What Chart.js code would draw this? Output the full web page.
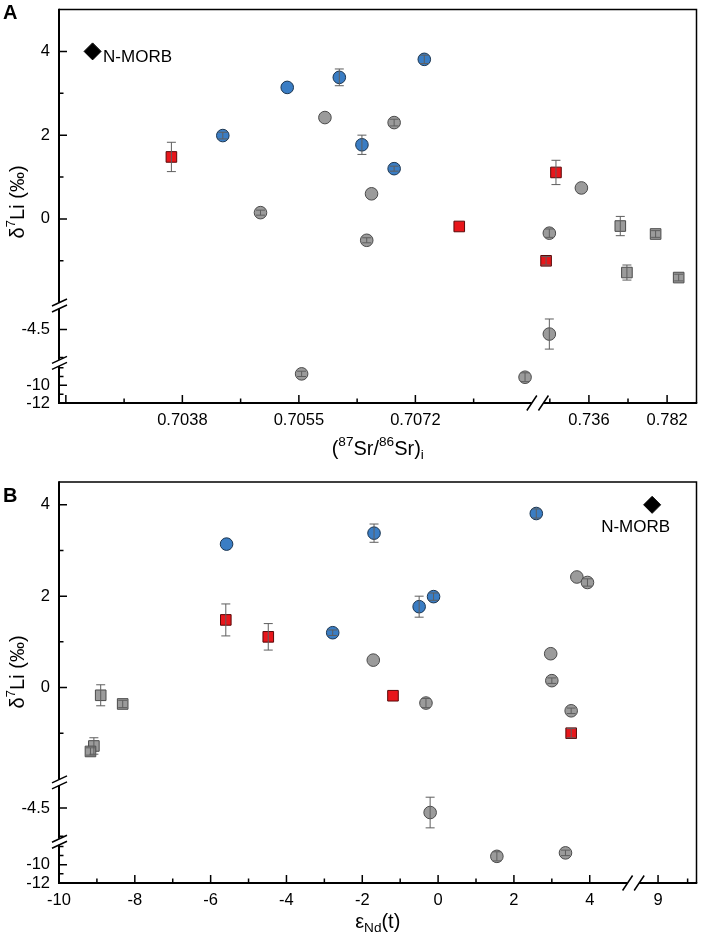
<!DOCTYPE html>
<html>
<head>
<meta charset="utf-8">
<script src="https://cdn.jsdelivr.net/npm/chart.js@4.4.1/dist/chart.umd.min.js"></script>
<style>
  html, body { margin: 0; padding: 0; background: #fff; }
  #wrap { position: relative; width: 706px; height: 945px; }
  canvas { position: absolute; left: 0; }
  #chartA { top: 0; }
  #chartB { top: 470px; }
</style>
</head>
<body>
<div id="wrap">
  <canvas id="chartA" width="706" height="470" style="width:706px;height:470px"></canvas>
  <canvas id="chartB" width="706" height="475" style="width:706px;height:475px"></canvas>
</div>
<script>
/**
 * δ7Li vs (87Sr/86Sr)i and εNd(t) - two panels with broken axes
 */

// ---- data ----
const SERIES = ["Group 1", "Group 2", "Group 3", "Group 4"];

// group 1 (blue circles)
const g1Li = [1.99, 3.14, 3.38, 3.81, 1.77, 1.2];
const g1Err = [0.08, 0, 0.2, 0.1, 0.23, 0.06];
const g1Sr = [0.70439, 0.70533, 0.70609, 0.70733, 0.70642, 0.70689];
const g1Nd = [-0.12, -5.58, -1.69, 2.59, -0.5, -2.78];

// group 2 (red squares)
const g2Li = [1.48, 1.11, -0.18, -1.0];
const g2Err = [0.35, 0.29, 0, 0.1];
const g2Sr = [0.70364, 0.71661, 0.70784, 0.71079];
const g2Nd = [-5.6, -4.48, -1.19, 3.51];

// group 3 (grey circles)
const g3Li = [0.15, 2.42, 2.3, 0.6, -0.51, 0.74, -0.34, -4.58, -9.08, -8.7];
const g3Err = [0.06, 0, 0.08, 0, 0.06, 0, 0.1, 0.27, 0.5, 0.3];
const g3Sr = [0.70494, 0.70588, 0.70689, 0.70656, 0.70649, 0.73157, 0.71271, 0.71271, 0.7088, 0.70554];
const g3Nd = [3.0, 3.66, 3.94, -1.71, 3.51, 2.97, -0.32, -0.21, 1.55, 3.36];

// group 4 (grey squares)
const g4Li = [-0.17, -0.36, -1.28, -1.4];
const g4Err = [0.23, 0.08, 0.18, 0.08];
const g4Sr = [0.75446, 0.77524, 0.75836, 0.78881];
const g4Nd = [-8.9, -8.32, -9.08, -9.17];

// N-MORB reference
const morbLi = 4;
const morbSr = 0.70249;
const morbNd = 8.9;

// tick values / labels
const yMajor = [4, 2, 0, -4.5, -10, -12];
const yLabels = ["4", "2", "0", "-4.5", "-10", "-12"];
const yMinor = [3, 1, -1, -5, -8, -9, -11];

const aXMajor = [0.7021, 0.7038, 0.7055, 0.7072, 0.736, 0.782];
const aXLabels = ["", "0.7038", "0.7055", "0.7072", "0.736", "0.782"];
const aXMinor = [0.70295, 0.70465, 0.70635, 0.70805, 0.713, 0.759];

const bXMajor = [-10, -8, -6, -4, -2, 0, 2, 4, 9];
const bXLabels = ["-10", "-8", "-6", "-4", "-2", "0", "2", "4", "9"];
const bXMinor = [-9, -7, -5, -3, -1, 1, 3, 9.5];

// ---- broken axis segments: value range -> fraction of plot length ----
const aXSegs = [
  { from: 0.702, to: 0.7089, f0: 0, f1: 0.7418 },
  { from: 0.7092, to: 0.7993, f0: 0.7598, f1: 1 },
];
const aYSegs = [
  { from: -12, to: -7.7, f0: 0, f1: 0.0965 },
  { from: -5.06, to: -4.12, f0: 0.1072, f1: 0.2404 },
  { from: -2, to: 5, f0: 0.2549, f1: 1 },
];
const bXSegs = [
  { from: -10, to: 5, f0: 0, f1: 0.892 },
  { from: 8.68, to: 9.65, f0: 0.91, f1: 1 },
];
const bYSegs = [
  { from: -12, to: -7.7, f0: 0, f1: 0.0979 },
  { from: -5.06, to: -4.11, f0: 0.1078, f1: 0.2423 },
  { from: -2, to: 4.5, f0: 0.2597, f1: 1 },
];

const TICK_FONT = '16.5px "Liberation Sans", Arial, sans-serif';
const TITLE_SIZE = 20;
const FONT_FAMILY = '"Liberation Sans", Arial, sans-serif';

const STYLES = [
  { pointStyle: "circle", radius: 6.3, fill: "#3a7dc4", line: "#1b3550" },
  { pointStyle: "rect", radius: 7.5, fill: "#e8161b", line: "#5a0a0a" },
  { pointStyle: "circle", radius: 6.3, fill: "#9b9b9b", line: "#4a4a4a" },
  { pointStyle: "rect", radius: 7.5, fill: "#9b9b9b", line: "#4a4a4a" },
];

function makeMap(segs) {
  return function (v) {
    for (const s of segs) {
      if (v >= s.from && v <= s.to) {
        return s.f0 + ((v - s.from) / (s.to - s.from)) * (s.f1 - s.f0);
      }
    }
    return NaN;
  };
}

// draw a line of text with sup/sub parts, centred at (x, y)
function drawRich(ctx, parts, x, y, size) {
  const small = size * 0.68;
  let total = 0;
  const widths = parts.map(function (p) {
    ctx.font = (p.s ? small : size) + "px " + FONT_FAMILY;
    const w = ctx.measureText(p.t).width;
    total += w;
    return w;
  });
  let cx = x - total / 2;
  ctx.textAlign = "left";
  ctx.textBaseline = "middle";
  parts.forEach(function (p, i) {
    ctx.font = (p.s ? small : size) + "px " + FONT_FAMILY;
    let dy = 0;
    if (p.s === "sup") dy = -size * 0.36;
    if (p.s === "sub") dy = size * 0.3;
    ctx.fillText(p.t, cx, y + dy);
    cx += widths[i];
  });
}

function buildDatasets(xs, mapX, mapY, morbX) {
  const groups = [
    { li: g1Li, err: g1Err, x: xs[0] },
    { li: g2Li, err: g2Err, x: xs[1] },
    { li: g3Li, err: g3Err, x: xs[2] },
    { li: g4Li, err: g4Err, x: xs[3] },
  ];
  const sets = groups.map(function (g, k) {
    const st = STYLES[k];
    return {
      label: SERIES[k],
      data: g.li.map(function (v, i) {
        return { x: mapX(g.x[i]), y: mapY(v), li: v, err: g.err[i] };
      }),
      pointStyle: st.pointStyle,
      pointRadius: st.radius,
      pointBackgroundColor: st.fill,
      pointBorderColor: st.line,
      pointBorderWidth: 1,
      showLine: false,
    };
  });
  sets.push({
    label: "N-MORB",
    data: [{ x: mapX(morbX), y: mapY(morbLi), li: morbLi, err: 0 }],
    pointStyle: "rectRot",
    pointRadius: 8.5,
    pointBackgroundColor: "#000",
    pointBorderColor: "#000",
    pointBorderWidth: 1,
    showLine: false,
  });
  return sets;
}

// axes, ticks, breaks, titles and error bars drawn on top of the library scales
function brokenAxesPlugin(p) {
  return {
    id: "brokenAxes",
    afterDatasetsDraw: function (chart) {
      const ctx = chart.ctx;
      const xs = chart.scales.x;
      const ys = chart.scales.y;
      ctx.save();
      ctx.strokeStyle = "#5e5e5e";
      ctx.lineWidth = 1;
      chart.data.datasets.forEach(function (ds) {
        ds.data.forEach(function (pt) {
          if (!pt.err) return;
          const x = xs.getPixelForValue(pt.x);
          const y1 = ys.getPixelForValue(p.mapY(pt.li + pt.err));
          const y2 = ys.getPixelForValue(p.mapY(pt.li - pt.err));
          ctx.beginPath();
          ctx.moveTo(x, y1);
          ctx.lineTo(x, y2);
          ctx.moveTo(x - 4.5, y1);
          ctx.lineTo(x + 4.5, y1);
          ctx.moveTo(x - 4.5, y2);
          ctx.lineTo(x + 4.5, y2);
          ctx.stroke();
        });
      });
      ctx.restore();
    },
    afterDraw: function (chart) {
      const ctx = chart.ctx;
      const a = chart.chartArea;
      const xs = chart.scales.x;
      const ys = chart.scales.y;
      const X = function (v) { return xs.getPixelForValue(p.mapX(v)); };
      const Y = function (v) { return ys.getPixelForValue(p.mapY(v)); };

      ctx.save();
      ctx.strokeStyle = "#000";
      ctx.fillStyle = "#000";

      // frame
      ctx.lineWidth = 1.5;
      ctx.beginPath();
      ctx.moveTo(a.left, a.top);
      ctx.lineTo(a.right, a.top);
      ctx.lineTo(a.right, a.bottom);
      ctx.stroke();
      ctx.lineWidth = 2;
      ctx.beginPath();
      ctx.moveTo(a.left, a.top - 0.75);
      ctx.lineTo(a.left, a.bottom);
      ctx.lineTo(a.right + 0.75, a.bottom);
      ctx.stroke();

      // ticks (inward)
      ctx.lineWidth = 1.5;
      ctx.beginPath();
      p.xMajor.forEach(function (v) {
        const x = X(v);
        ctx.moveTo(x, a.bottom);
        ctx.lineTo(x, a.bottom - 8);
      });
      p.xMinor.forEach(function (v) {
        const x = X(v);
        ctx.moveTo(x, a.bottom);
        ctx.lineTo(x, a.bottom - 4.5);
      });
      yMajor.forEach(function (v) {
        const y = Y(v);
        ctx.moveTo(a.left, y);
        ctx.lineTo(a.left + 8, y);
      });
      yMinor.forEach(function (v) {
        const y = Y(v);
        ctx.moveTo(a.left, y);
        ctx.lineTo(a.left + 4.5, y);
      });
      ctx.stroke();

      // tick labels
      ctx.font = TICK_FONT;
      ctx.textAlign = "center";
      ctx.textBaseline = "middle";
      p.xMajor.forEach(function (v, i) {
        ctx.fillText(p.xLabels[i], X(v), a.bottom + 17);
      });
      ctx.textAlign = "right";
      yMajor.forEach(function (v, i) {
        ctx.fillText(yLabels[i], a.left - 9, Y(v));
      });

      // axis breaks
      ctx.lineWidth = 1.5;
      for (let i = 0; i < p.xSegs.length - 1; i++) {
        const cx = xs.getPixelForValue((p.xSegs[i].f1 + p.xSegs[i + 1].f0) / 2);
        const d = 5.8;
        ctx.fillStyle = "#fff";
        ctx.fillRect(cx - d, a.bottom - 1.5, 2 * d, 3);
        ctx.beginPath();
        [-d, d].forEach(function (s) {
          ctx.moveTo(cx + s - 5, a.bottom + 7.5);
          ctx.lineTo(cx + s + 5, a.bottom - 7.5);
        });
        ctx.stroke();
      }
      for (let i = 0; i < p.ySegs.length - 1; i++) {
        const cy = ys.getPixelForValue((p.ySegs[i].f1 + p.ySegs[i + 1].f0) / 2);
        const d = 3;
        ctx.fillStyle = "#fff";
        ctx.fillRect(a.left - 1.5, cy - d, 3, 2 * d);
        ctx.beginPath();
        [-d, d].forEach(function (s) {
          ctx.moveTo(a.left - 7, cy + s + 3.5);
          ctx.lineTo(a.left + 8, cy + s - 3.5);
        });
        ctx.stroke();
      }

      // N-MORB label
      ctx.fillStyle = "#000";
      ctx.font = '17px ' + FONT_FAMILY;
      ctx.textAlign = p.morbAlign;
      ctx.textBaseline = "middle";
      ctx.fillText("N-MORB", X(p.morbX) + p.morbDx, Y(morbLi) + p.morbDy);

      // panel letter
      ctx.font = 'bold 20px ' + FONT_FAMILY;
      ctx.textAlign = "left";
      ctx.textBaseline = "alphabetic";
      ctx.fillText(p.letter, 3, p.letterY);

      // axis titles
      drawRich(ctx, p.xTitle, (a.left + a.right) / 2, a.bottom + p.xTitleGap, TITLE_SIZE);
      ctx.save();
      ctx.translate(18, 202);
      ctx.rotate(-Math.PI / 2);
      drawRich(ctx, [{ t: "δ" }, { t: "7", s: "sup" }, { t: "Li (‰)" }], 0, 0, TITLE_SIZE);
      ctx.restore();

      ctx.restore();
    },
  };
}

function makeChart(id, p, padding) {
  new Chart(document.getElementById(id), {
    type: "scatter",
    data: { datasets: buildDatasets(p.xData, p.mapX, p.mapY, p.morbX) },
    options: {
      responsive: false,
      animation: false,
      devicePixelRatio: 1,
      layout: { padding: padding },
      plugins: { legend: { display: false }, tooltip: { enabled: false } },
      scales: {
        x: { type: "linear", min: 0, max: 1, display: false },
        y: { type: "linear", min: 0, max: 1, display: false },
      },
    },
    plugins: [brokenAxesPlugin(p)],
  });
}

document.addEventListener("DOMContentLoaded", function () {
  // panel A: δ7Li vs (87Sr/86Sr)i
  makeChart(
    "chartA",
    {
      mapX: makeMap(aXSegs),
      mapY: makeMap(aYSegs),
      xSegs: aXSegs,
      ySegs: aYSegs,
      xData: [g1Sr, g2Sr, g3Sr, g4Sr],
      morbX: morbSr,
      xMajor: aXMajor,
      xLabels: aXLabels,
      xMinor: aXMinor,
      xTitle: [{ t: "(" }, { t: "87", s: "sup" }, { t: "Sr/" }, { t: "86", s: "sup" }, { t: "Sr)" }, { t: "i", s: "sub" }],
      xTitleGap: 46,
      morbAlign: "left",
      morbDx: 10.5,
      morbDy: 6,
      letter: "A",
      letterY: 18.5,
    },
    { left: 59, top: 2, right: 3, bottom: 67 }
  );

  // panel B: δ7Li vs εNd(t)
  makeChart(
    "chartB",
    {
      mapX: makeMap(bXSegs),
      mapY: makeMap(bYSegs),
      xSegs: bXSegs,
      ySegs: bYSegs,
      xData: [g1Nd, g2Nd, g3Nd, g4Nd],
      morbX: morbNd,
      xMajor: bXMajor,
      xLabels: bXLabels,
      xMinor: bXMinor,
      xTitle: [{ t: "ε" }, { t: "Nd", s: "sub" }, { t: "(t)" }],
      xTitleGap: 39,
      morbAlign: "center",
      morbDx: -16.5,
      morbDy: 22.5,
      letter: "B",
      letterY: 31.5,
    },
    { left: 59, top: 12, right: 3, bottom: 62 }
  );
});
</script>
</body>
</html>
